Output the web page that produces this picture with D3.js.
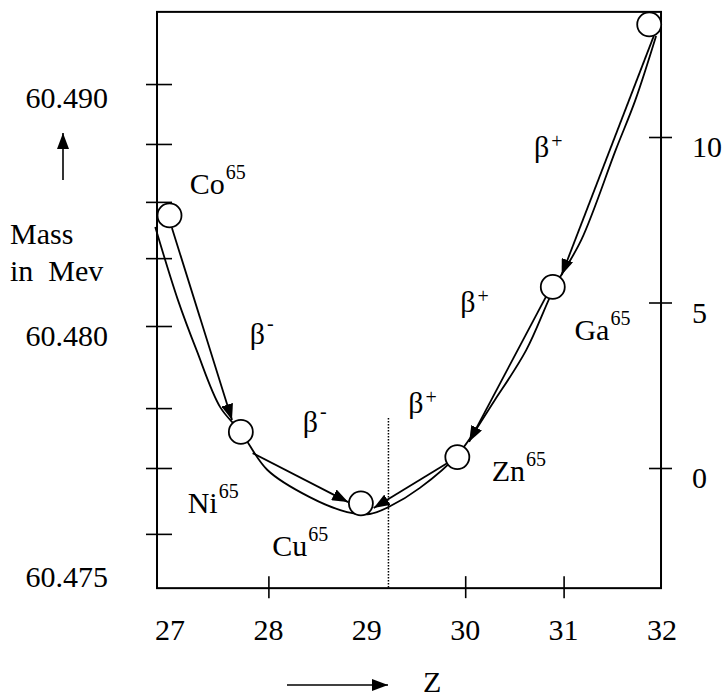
<!DOCTYPE html>
<html>
<head>
<meta charset="utf-8">
<script src="https://cdn.jsdelivr.net/npm/d3@7/dist/d3.min.js"></script>
</head>
<body style="margin:0;background:#fff">
<svg width="724" height="697" font-family="Liberation Serif" style="font-family:'Liberation Serif'"></svg>
<script>
/* global d3 */

// A = 65 isobars, position (Z) and energy (MeV) as drawn
const nuclides = ['Co', 'Ni', 'Cu', 'Zn', 'Ga', 'Ge'];
const nucZ = [26.995, 27.72, 28.94, 29.92, 30.89, 31.87];
const nucE = [7.63, 1.09, -1.07, 0.33, 5.47, 13.40];
const labelled = ['Co', 'Ni', 'Cu', 'Zn', 'Ga'];
const labelZ = [27.20, 27.18, 28.04, 30.27, 31.11];
const labelE = [8.28, -1.36, -2.66, -0.39, 3.87];

// mass parabola
const curveZ = [26.85, 27.08, 27.27, 27.51, 27.72, 27.99, 28.42, 28.80, 29.03, 29.24, 29.54, 29.92, 30.30, 30.62, 30.91, 31.18, 31.53, 31.73, 31.94];
const curveE = [7.28, 5.08, 3.56, 1.84, 1.09, -0.06, -0.88, -1.33, -1.39, -1.15, -0.60, 0.39, 2.05, 3.56, 5.47, 6.89, 9.61, 11.12, 13.05];

// decay arrows (start -> tip)
const decayZ0 = [27.02, 27.84, 31.92, 30.82, 29.82];
const decayE0 = [7.25, 0.45, 13.08, 5.17, 0.15];
const decayZ1 = [27.63, 28.81, 30.98, 30.04, 29.07];
const decayE1 = [1.45, -1.03, 5.83, 0.79, -1.21];
const decaySign = ['-', '-', '+', '+', '+'];
const decayLabelZ = [27.81, 28.35, 30.70, 29.95, 29.42];
const decayLabelE = [3.75, 1.09, 9.40, 4.71, 1.66];

// axes
const zTicks = [28, 30, 31];
const zLabels = [27, 28, 29, 30, 31, 32];
const energyTicks = [0, 5, 10];
const leftTicks = [11.6, 9.79, 8.04, 6.34, 4.29, 1.81, 0, -1.99];
const massLabels = [60.475, 60.480, 60.490];
const minZ = 29.22; // dotted line

const svg = d3.select('svg');

const x = d3.scaleLinear().domain([27, 32]).range([170, 662]);
const y = d3.scaleLinear().domain([0, 10]).range([468, 137]);
const yMass = d3.scaleLinear().domain(massLabels).range([587, 346, 108]);

const frame = { z0: 26.868, z1: 31.99, e0: -3.63, e1: 13.78 };

const txt = sel => sel
  .attr('font-family', 'Liberation Serif')
  .style('font-family', '"Liberation Serif"')
  .attr('font-size', 30)
  .attr('fill', '#000');

const defs = svg.append('defs');
defs.append('marker')
  .attr('id', 'head')
  .attr('markerUnits', 'userSpaceOnUse')
  .attr('viewBox', '0 0 16 12')
  .attr('refX', 16).attr('refY', 6)
  .attr('markerWidth', 16).attr('markerHeight', 12)
  .attr('orient', 'auto')
  .append('path')
  .attr('d', 'M0,0L16,6L0,12Z')
  .attr('fill', '#000');

// frame
svg.append('rect')
  .attr('x', x(frame.z0))
  .attr('y', y(frame.e1))
  .attr('width', x(frame.z1) - x(frame.z0))
  .attr('height', y(frame.e0) - y(frame.e1))
  .attr('fill', 'none')
  .attr('stroke', '#000')
  .attr('stroke-width', 2);

// bottom ticks (crossing the frame)
const bottom = svg.append('g')
  .attr('transform', `translate(0,${y(frame.e0)})`)
  .call(d3.axisBottom(x).tickValues(zTicks).tickSize(10).tickFormat(''));
bottom.select('.domain').remove();
bottom.selectAll('line').attr('y1', -12).attr('stroke-width', 1.6);

const textLayer = svg.append('g')
  .attr('font-family', 'Liberation Serif')
  .style('font-family', '"Liberation Serif"');

textLayer.append('g')
  .selectAll('text')
  .data(zLabels)
  .enter()
  .append('text')
  .call(txt)
  .attr('x', d => x(d))
  .attr('y', 640)
  .attr('text-anchor', 'middle')
  .text(d => d);

// right energy axis
const right = svg.append('g')
  .attr('transform', `translate(${x(frame.z1)},0)`)
  .call(d3.axisRight(y).tickValues(energyTicks).tickSize(11).tickFormat(''));
right.select('.domain').remove();
right.selectAll('line').attr('x1', -12).attr('stroke-width', 1.6);

textLayer.append('g')
  .selectAll('text')
  .data(energyTicks)
  .enter()
  .append('text')
  .call(txt)
  .attr('x', 692)
  .attr('y', d => y(d) + 20)
  .text(d => d);

// left mass axis
const left = svg.append('g')
  .attr('transform', `translate(${x(frame.z0)},0)`)
  .call(d3.axisLeft(y).tickValues(leftTicks).tickSize(11).tickFormat(''));
left.select('.domain').remove();
left.selectAll('line').attr('x1', 15).attr('stroke-width', 1.6);

textLayer.append('g')
  .selectAll('text')
  .data(massLabels)
  .enter()
  .append('text')
  .call(txt)
  .attr('x', 108)
  .attr('y', d => yMass(d))
  .attr('text-anchor', 'end')
  .text(d => d3.format('.3f')(d));

// axis titles
textLayer.append('text').call(txt).attr('x', 10).attr('y', 244).text('Mass');
textLayer.append('text').call(txt).attr('x', 10).attr('y', 281).text('in\u00a0 Mev');
textLayer.append('text').call(txt).attr('x', 423).attr('y', 692).text('Z');
svg.append('line')
  .attr('x1', 63).attr('y1', 180).attr('x2', 63).attr('y2', 133)
  .attr('stroke', '#000').attr('stroke-width', 1.6)
  .attr('marker-end', 'url(#head)');
svg.append('line')
  .attr('x1', 287).attr('y1', 685).attr('x2', 388).attr('y2', 685)
  .attr('stroke', '#000').attr('stroke-width', 1.6)
  .attr('marker-end', 'url(#head)');

// dotted line at the parabola minimum
svg.append('line')
  .attr('x1', x(minZ)).attr('x2', x(minZ))
  .attr('y1', y(1.51)).attr('y2', y(frame.e0))
  .attr('stroke', '#000')
  .attr('stroke-width', 1.5)
  .attr('stroke-dasharray', '1.5,1.5');

// mass curve
const curvePts = curveZ.map((z, i) => [z, curveE[i]]);
svg.append('path')
  .datum(curvePts)
  .attr('fill', 'none')
  .attr('stroke', '#000')
  .attr('stroke-width', 1.8)
  .attr('d', d3.line().x(d => x(d[0])).y(d => y(d[1])).curve(d3.curveCatmullRom.alpha(0.5)));

// decay arrows
svg.append('g')
  .selectAll('line')
  .data(decayZ0)
  .enter()
  .append('line')
  .attr('x1', (d, i) => x(decayZ0[i]))
  .attr('y1', (d, i) => y(decayE0[i]))
  .attr('x2', (d, i) => x(decayZ1[i]))
  .attr('y2', (d, i) => y(decayE1[i]))
  .attr('stroke', '#000')
  .attr('stroke-width', 1.8)
  .attr('marker-end', 'url(#head)');

// nuclide circles
svg.append('g')
  .selectAll('circle')
  .data(nuclides)
  .enter()
  .append('circle')
  .attr('cx', (d, i) => x(nucZ[i]))
  .attr('cy', (d, i) => y(nucE[i]))
  .attr('r', 12)
  .attr('fill', '#fff')
  .attr('stroke', '#000')
  .attr('stroke-width', 1.8);

// nuclide labels
const nl = textLayer.append('g')
  .selectAll('text')
  .data(labelled)
  .enter()
  .append('text')
  .call(txt)
  .attr('x', (d, i) => x(labelZ[i]))
  .attr('y', (d, i) => y(labelE[i]));
nl.append('tspan').text(d => d);
nl.append('tspan').attr('font-size', 20).attr('dy', -15).attr('dx', 1).text('65');

// decay labels
const dl = textLayer.append('g')
  .selectAll('text')
  .data(decaySign)
  .enter()
  .append('text')
  .call(txt)
  .attr('x', (d, i) => x(decayLabelZ[i]))
  .attr('y', (d, i) => y(decayLabelE[i]));
dl.append('tspan').text('β');
dl.append('tspan')
  .attr('font-size', 20)
  .attr('dy', d => d === '-' ? -14 : -9)
  .attr('dx', 2)
  .text(d => d);
</script>
</body>
</html>
